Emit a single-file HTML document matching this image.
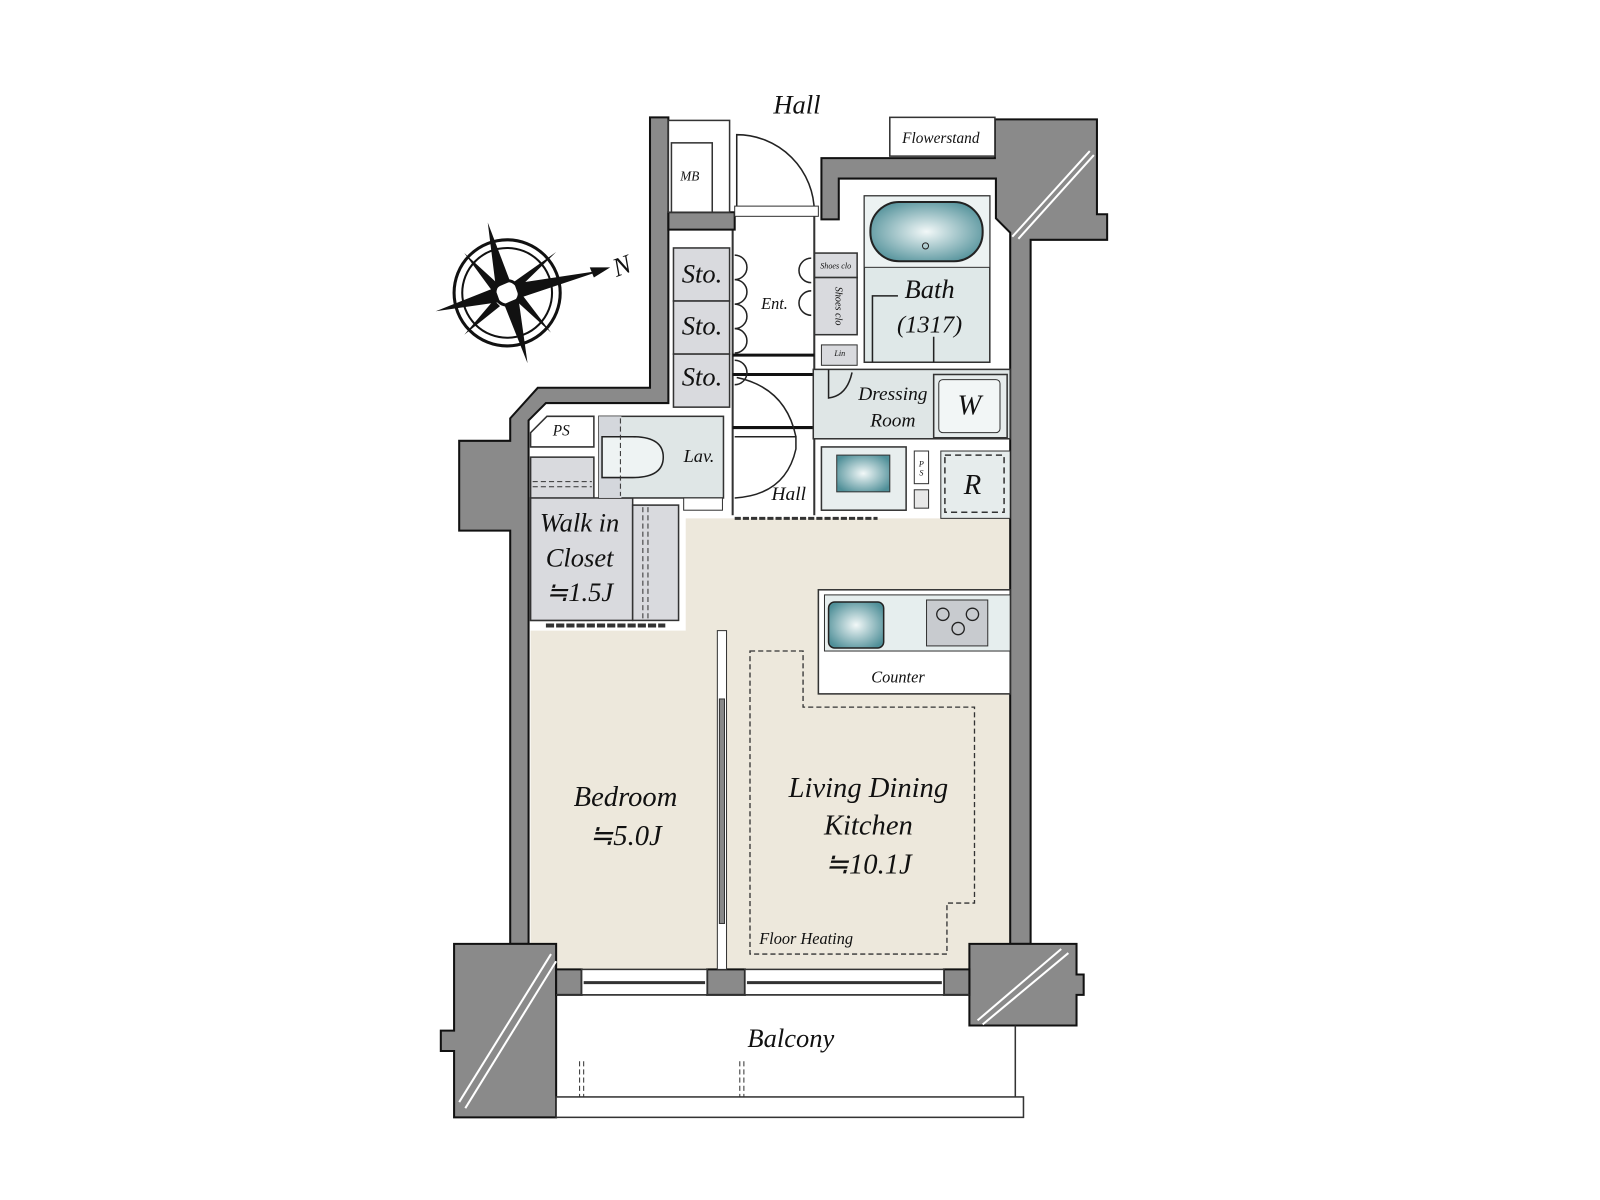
<!DOCTYPE html>
<html><head><meta charset="utf-8"><style>
html,body{margin:0;padding:0;background:#fff;}
svg{display:block;}
text{font-family:"Liberation Serif",serif;font-style:italic;fill:#111;}
</style></head><body>
<svg width="1600" height="1200" viewBox="0 0 1568 1176" xmlns="http://www.w3.org/2000/svg">
<defs>
<radialGradient id="g" cx="50%" cy="50%" r="60%"><stop offset="0" stop-color="#f2f8f8"/><stop offset="1" stop-color="#4f8f98"/></radialGradient>
</defs>
<rect x="672" y="508" width="318" height="442" fill="#ede8dc"/>
<rect x="520" y="618" width="185" height="332" fill="#ede8dc"/>
<rect x="520" y="448" width="62" height="160" fill="#d9dade" stroke="#333" stroke-width="1.5"/>
<rect x="520" y="488" width="100" height="120" fill="#d9dade" stroke="#333" stroke-width="1.5"/>
<rect x="620" y="495" width="45" height="113" fill="#d9dade" stroke="#333" stroke-width="1.5"/>
<line x1="630" y1="497" x2="630" y2="606" stroke="#333" stroke-dasharray="5,3"/>
<line x1="635" y1="497" x2="635" y2="606" stroke="#333" stroke-dasharray="5,3"/>
<line x1="522" y1="472" x2="580" y2="472" stroke="#333" stroke-dasharray="5,3"/>
<line x1="522" y1="477" x2="580" y2="477" stroke="#333" stroke-dasharray="5,3"/>
<path d="M520 424 L536 408 L582 408 L582 438 L520 438 Z" fill="#fff" stroke="#333" stroke-width="1.5"/>
<rect x="587" y="408" width="122" height="80" fill="#dfe6e6" stroke="#333" stroke-width="1.5"/>
<rect x="587" y="408" width="22" height="80" fill="#d4d7dc"/>
<path d="M590 428 L620 428 Q650 428 650 448 Q650 468 620 468 L590 468 Z" fill="#eef3f3" stroke="#222" stroke-width="1.5"/>
<line x1="608" y1="410" x2="608" y2="486" stroke="#333" stroke-dasharray="5,3"/>
<rect x="670" y="488" width="38" height="12" fill="#fff" stroke="#333"/>
<rect x="660" y="243" width="55" height="52" fill="#d9dade" stroke="#333" stroke-width="1.5"/>
<rect x="660" y="295" width="55" height="52" fill="#d9dade" stroke="#333" stroke-width="1.5"/>
<rect x="660" y="347" width="55" height="52" fill="#d9dade" stroke="#333" stroke-width="1.5"/>
<rect x="798" y="248" width="42" height="24" fill="#d9dade" stroke="#333" stroke-width="1.5"/>
<rect x="798" y="272" width="42" height="56" fill="#d9dade" stroke="#333" stroke-width="1.5"/>
<line x1="718" y1="210" x2="718" y2="505" stroke="#333" stroke-width="2"/>
<line x1="798" y1="210" x2="798" y2="505" stroke="#333" stroke-width="2"/>
<line x1="718" y1="348" x2="798" y2="348" stroke="#111" stroke-width="3"/>
<line x1="718" y1="367" x2="798" y2="367" stroke="#111" stroke-width="3"/>
<line x1="718" y1="419" x2="798" y2="419" stroke="#111" stroke-width="3"/>
<path d="M720 250 a12 12 0 0 1 0 24 a12 12 0 0 1 0 24 a12 12 0 0 1 0 24 a12 12 0 0 1 0 24 M720 353 a12 12 0 0 1 0 24" fill="none" stroke="#222" stroke-width="1.5"/>
<path d="M795 253 a12 12 0 0 0 0 24 M795 285 a12 12 0 0 0 0 24" fill="none" stroke="#222" stroke-width="1.5"/>
<path d="M722 370 Q770 380 780 428 M720 428 L780 428 L780 440 Q770 485 720 488" fill="none" stroke="#222" stroke-width="1.5"/>
<!-- walls -->
<g fill="#8a8a8a" stroke="#111" stroke-width="2">
<path d="M637 115 L655 115 L655 395 L535 395 L518 412 L518 925 L500 925 L500 520 L450 520 L450 432 L500 432 L500 410 L527 380 L637 380 Z"/>
<path d="M655 208 L720 208 L720 225 L655 225 Z"/>
<path d="M805 155 L975 155 L975 117 L1075 117 L1075 210 L1085 210 L1085 235 L1010 235 L1010 925 L990 925 L990 228 L976 214 L976 175 L822 175 L822 215 L805 215 Z"/>
<path d="M445 925 L545 925 L545 1095 L445 1095 L445 1030 L432 1030 L432 1010 L445 1010 Z"/>
<path d="M950 925 L1055 925 L1055 955 L1062 955 L1062 975 L1055 975 L1055 1005 L950 1005 Z"/>
<path d="M545 950 L570 950 L570 975 L545 975 Z M693 950 L730 950 L730 975 L693 975 Z M925 950 L950 950 L950 975 L925 975 Z"/>
</g>
<g stroke="#fff" stroke-width="2" fill="none">
<line x1="992" y1="232" x2="1068" y2="148"/><line x1="998" y1="234" x2="1072" y2="152"/>
<line x1="450" y1="1080" x2="540" y2="935"/><line x1="456" y1="1086" x2="545" y2="942"/>
<line x1="958" y1="1000" x2="1040" y2="930"/><line x1="963" y1="1004" x2="1047" y2="934"/>
</g>
<!-- bath -->
<rect x="847" y="192" width="123" height="163" fill="#dfe8e8" stroke="#333" stroke-width="1.5"/>
<rect x="847" y="192" width="123" height="70" fill="#ecf2f2" stroke="#333" stroke-width="1"/>
<rect x="853" y="198" width="110" height="58" rx="28" fill="url(#g)" stroke="#222" stroke-width="2"/>
<circle cx="907" cy="241" r="3" fill="none" stroke="#222"/>
<path d="M855 355 L855 290 L880 290 M915 330 L915 355" fill="none" stroke="#222" stroke-width="1.5"/>
<rect x="805" y="338" width="35" height="20" fill="#d9dade" stroke="#333"/>
<rect x="797" y="362" width="193" height="68" fill="#dfe6e6" stroke="#333" stroke-width="1.5"/>
<rect x="915" y="367" width="72" height="62" fill="#e6ecec" stroke="#333" stroke-width="1.5"/>
<rect x="920" y="372" width="60" height="52" rx="4" fill="#f2f6f6" stroke="#333"/>
<path d="M812 362 L812 390 Q830 388 835 365" fill="none" stroke="#222" stroke-width="1.5"/>
<rect x="805" y="438" width="83" height="62" fill="#e8eeee" stroke="#333" stroke-width="1.5"/>
<rect x="820" y="446" width="52" height="36" fill="url(#g)" stroke="#333"/>
<rect x="896" y="442" width="14" height="32" fill="#fff" stroke="#333"/>
<rect x="896" y="480" width="14" height="18" fill="#e8e8e8" stroke="#333"/>
<rect x="922" y="442" width="68" height="66" fill="#e6ecec" stroke="#333"/>
<rect x="926" y="446" width="58" height="56" fill="none" stroke="#333" stroke-width="1.5" stroke-dasharray="6,4"/>
<line x1="720" y1="508" x2="860" y2="508" stroke="#333" stroke-width="3" stroke-dasharray="6,2"/>
<rect x="802" y="578" width="188" height="102" fill="#fff" stroke="#333" stroke-width="1.5"/>
<rect x="808" y="583" width="182" height="55" fill="#e6eeee" stroke="#333"/>
<rect x="812" y="590" width="54" height="45" rx="6" fill="url(#g)" stroke="#222" stroke-width="1.5"/>
<rect x="908" y="588" width="60" height="45" fill="#c8cbcf" stroke="#333"/>
<g fill="none" stroke="#222" stroke-width="1.3"><circle cx="924" cy="602" r="6"/><circle cx="953" cy="602" r="6"/><circle cx="939" cy="616" r="6"/></g>
<path d="M735 638 L787 638 L787 693 L955 693 L955 885 L928 885 L928 935 L735 935 Z" fill="none" stroke="#333" stroke-width="1.3" stroke-dasharray="5,3"/>
<rect x="703" y="618" width="9" height="332" fill="#fff" stroke="#333"/>
<rect x="705" y="685" width="5" height="220" fill="#888" stroke="#333"/>
<line x1="535" y1="613" x2="652" y2="613" stroke="#333" stroke-width="4" stroke-dasharray="8,2"/>
<rect x="655" y="118" width="60" height="90" fill="#fff" stroke="#333" stroke-width="1.5"/>
<rect x="658" y="140" width="40" height="68" fill="#fff" stroke="#333" stroke-width="1.5"/>
<rect x="872" y="115" width="103" height="38" fill="#fff" stroke="#333" stroke-width="1.5"/>
<path d="M722 208 L722 132 A76 76 0 0 1 798 208" fill="none" stroke="#222" stroke-width="1.5"/>
<rect x="720" y="202" width="82" height="10" fill="#fff" stroke="#333"/>
<rect x="570" y="950" width="123" height="25" fill="#fff" stroke="#333" stroke-width="1.5"/>
<line x1="572" y1="963" x2="691" y2="963" stroke="#333" stroke-width="3"/>
<rect x="730" y="950" width="195" height="25" fill="#fff" stroke="#333" stroke-width="1.5"/>
<line x1="732" y1="963" x2="923" y2="963" stroke="#333" stroke-width="3"/>
<path d="M545 975 L950 975 M995 1005 L995 1078" fill="none" stroke="#333" stroke-width="1.5"/>
<rect x="545" y="1075" width="458" height="20" fill="#fff" stroke="#333" stroke-width="1.5"/>
<path d="M568 1040 L568 1075 M572 1040 L572 1075 M725 1040 L725 1075 M729 1040 L729 1075" stroke="#333" stroke-dasharray="5,3"/>
<g stroke="#111" fill="none">
<circle cx="497" cy="287" r="52" stroke-width="3"/>
<circle cx="497" cy="287" r="44" stroke-width="2"/>
<circle cx="497" cy="287" r="12" stroke-width="3" fill="#fff"/>
</g>
<g fill="#111">
<polygon points="478,218 500,276 486,282"/>
<polygon points="517,356 494,298 508,292"/>
<polygon points="427,305 485,282 490,296"/>
<polygon points="590,265 509,292 504,278"/>
<polygon points="455,248 490,280 483,286"/>
<polygon points="540,326 505,294 511,288"/>
<polygon points="455,328 484,294 490,300"/>
<polygon points="545,247 510,281 504,276"/>
</g>
<polygon points="598,262 578,262 582,272" fill="#111"/>
<text x="600" y="268" font-size="26" transform="rotate(-20 612 258)">N</text>
<g text-anchor="middle">
<text x="781" y="111" font-size="26">Hall</text>
<text x="922" y="140" font-size="15">Flowerstand</text>
<text x="676" y="177" font-size="13">MB</text>
<text x="688" y="277" font-size="26">Sto.</text>
<text x="688" y="328" font-size="26">Sto.</text>
<text x="688" y="378" font-size="26">Sto.</text>
<text x="759" y="303" font-size="16">Ent.</text>
<text x="819" y="263" font-size="8">Shoes clo</text>
<text x="819" y="300" font-size="10" transform="rotate(90 819 300)">Shoes clo</text>
<text x="911" y="292" font-size="26">Bath</text>
<text x="911" y="326" font-size="24">(1317)</text>
<text x="823" y="349" font-size="8">Lin</text>
<text x="875" y="392" font-size="19">Dressing</text>
<text x="875" y="418" font-size="19">Room</text>
<text x="950" y="406" font-size="28">W</text>
<text x="953" y="484" font-size="28">R</text>
<text x="903" y="457" font-size="8">P</text>
<text x="903" y="466" font-size="8">S</text>
<text x="550" y="427" font-size="15">PS</text>
<text x="685" y="453" font-size="18">Lav.</text>
<text x="773" y="490" font-size="19">Hall</text>
<text x="568" y="521" font-size="26">Walk in</text>
<text x="568" y="555" font-size="26">Closet</text>
<text x="568" y="589" font-size="26">≒1.5J</text>
<text x="880" y="669" font-size="16">Counter</text>
<text x="613" y="790" font-size="28">Bedroom</text>
<text x="613" y="828" font-size="28">≒5.0J</text>
<text x="851" y="781" font-size="28">Living Dining</text>
<text x="851" y="818" font-size="28">Kitchen</text>
<text x="851" y="856" font-size="28">≒10.1J</text>
<text x="790" y="925" font-size="16">Floor Heating</text>
<text x="775" y="1026" font-size="26">Balcony</text>
</g>
</svg>
</body></html>
